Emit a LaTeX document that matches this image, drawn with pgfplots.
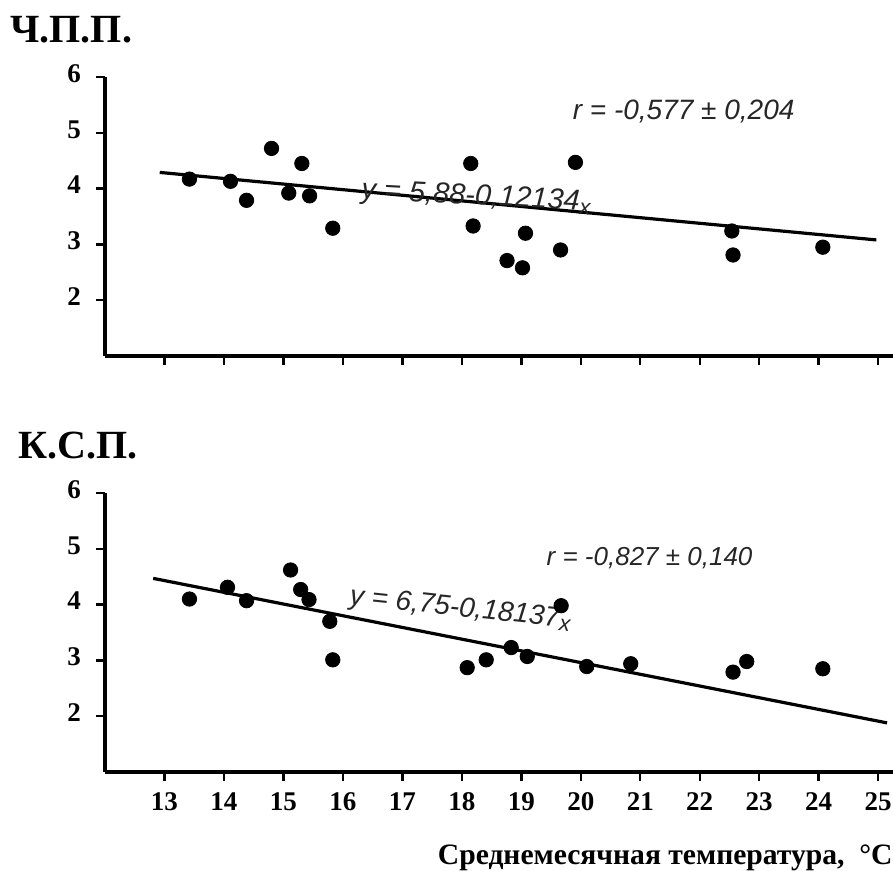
\documentclass[border=0pt]{standalone}
\usepackage{fontspec}
\setmainfont{Liberation Serif}
\newfontfamily\annot{Liberation Sans}
\usepackage{pgfplots}
\pgfplotsset{compat=1.18}

\pgfplotsset{panel/.style={
    scale only axis, width=394pt, height=139.5pt,
    xmin=12, xmax=25.25, ymin=1, ymax=6,
    axis x line*=bottom, axis y line*=left,
    axis line style={-, line width=1.6pt},
    xtick={13,...,25}, ytick={2,...,6},
    tick align=outside, major tick length=4.5pt,
    tick style={line width=1.2pt, black},
    ticklabel style={font=\bfseries\fontsize{13.5}{13.5}\selectfont},
    typeset ticklabels with strut,
    xticklabel shift=2pt, yticklabel shift=4pt,
    /pgf/number format/assume math mode=true,
    clip=false,
  },
  pts/.style={only marks, mark=*, mark size=3.6pt, black},
  fit/.style={black, line width=1.6pt, no marks},
}
\tikzset{ann/.style={font=\annot\itshape\fontsize{13}{13}\selectfont, text=black!85, inner sep=0pt}}

\begin{document}
\begin{tikzpicture}
\useasboundingbox (0,0) rectangle (446.5pt,435.5pt);

% Ч.П.П.
\begin{axis}[panel, at={(52.5pt,257.5pt)}, anchor=south west, xticklabels={}]
  \addplot[pts] coordinates {
    (13.42,4.17) (14.11,4.13) (14.38,3.79) (14.80,4.72) (15.31,4.45)
    (15.09,3.92) (15.44,3.87) (15.83,3.29) (18.15,4.45) (18.19,3.33)
    (19.07,3.20) (18.76,2.71) (19.02,2.58) (19.66,2.90) (19.91,4.47)
    (22.54,3.24) (22.56,2.81) (24.07,2.95)
  };
  \addplot[fit] coordinates {(12.92,4.29) (24.97,3.08)};
  \node[ann, font=\annot\itshape\fontsize{14}{14}\selectfont, anchor=west] at (axis cs:19.86,5.39) {r = -0,577 ± 0,204};
  \node[ann, font=\annot\itshape\fontsize{14.5}{14.5}\selectfont, anchor=base west, rotate=-3] at (axis cs:16.30,3.82) {y = 5,88-0,12134\raisebox{-2pt}{\fontsize{11}{11}\selectfont x}};
\end{axis}

% К.С.П.
\begin{axis}[panel, at={(52.5pt,49.5pt)}, anchor=south west]
  \addplot[pts] coordinates {
    (13.42,4.10) (14.06,4.31) (14.38,4.07) (15.12,4.62) (15.29,4.27)
    (15.43,4.09) (15.78,3.70) (15.83,3.01) (18.09,2.87) (18.41,3.01)
    (18.83,3.23) (19.10,3.07) (19.67,3.98) (20.10,2.89) (20.84,2.94)
    (22.56,2.79) (22.79,2.98) (24.07,2.85)
  };
  \addplot[fit] coordinates {(12.81,4.47) (25.15,1.88)};
  \node[ann, anchor=west] at (axis cs:19.42,4.84) {r = -0,827 ± 0,140};
  \node[ann, font=\annot\itshape\fontsize{14}{14}\selectfont, anchor=base west, rotate=-6] at (axis cs:16.10,4.00) {y = 6,75-0,18137\raisebox{-2pt}{\fontsize{11}{11}\selectfont x}};
\end{axis}

\node[anchor=base west, inner sep=0pt, font=\bfseries\fontsize{20}{20}\selectfont] at (5pt,414pt) {Ч.П.П.};
\node[anchor=base west, inner sep=0pt, font=\bfseries\fontsize{20}{20}\selectfont] at (9pt,206pt) {К.С.П.};
\node[anchor=base east, inner sep=0pt, font=\bfseries\fontsize{14.8}{14.8}\selectfont] at (446.5pt,3pt) {Среднемесячная температура,\ \ °C};
\end{tikzpicture}
\end{document}
